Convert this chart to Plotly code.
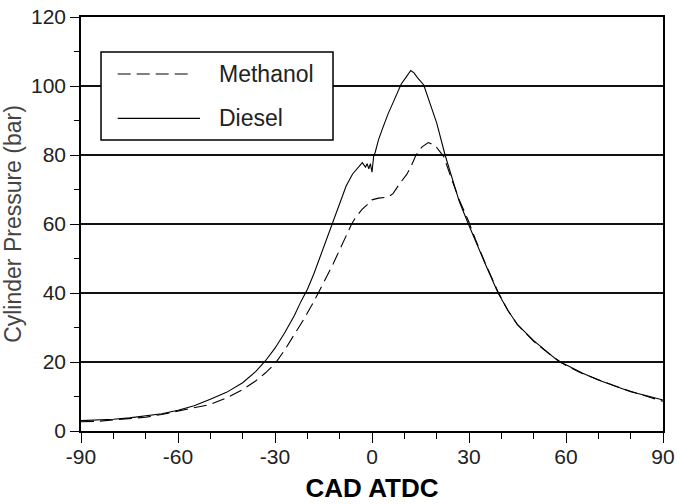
import plotly.graph_objects as go

# ---- data ----
series_names = ["Methanol", "Diesel"]

diesel_cad = [-90, -85, -80, -75, -70, -65, -60, -55, -50, -45, -40, -36, -33, -30, -27, -24,
              -22, -20, -18, -16, -14, -12, -10, -8, -6, -4, -3, -2, -1.5, -1, -0.5, 0, 0.5,
              1, 2, 3.3, 5, 7, 9, 10.5, 12, 13, 14, 16, 18, 20, 22.6, 25, 27, 29.8, 32, 35,
              39, 42, 45, 50, 55, 58, 60, 65, 70, 75, 80, 85, 90]
diesel_p = [3.0, 3.1, 3.4, 3.8, 4.3, 5.0, 6.0, 7.3, 9.2, 11.2, 14.0, 17.2, 20.3, 24.0, 28.5, 33.5,
            37.5, 41.0, 45.5, 50.5, 55.4, 60.5, 66.0, 71.0, 74.5, 76.8, 77.8, 76.5, 77.5, 76.0, 77.5, 75.0, 79.6,
            80.8, 84.4, 87.8, 92.0, 96.2, 100.5, 102.5, 104.5, 103.8, 102.5, 100.3, 94.5, 89.3, 80.0, 72.5, 66.5, 60.0, 55.0, 48.5,
            40.0, 35.0, 30.8, 26.2, 22.3, 20.0, 19.2, 16.8, 14.8, 13.0, 11.4, 10.2, 9.0]

methanol_cad = [-90, -85, -80, -75, -70, -65, -60, -55, -50, -45, -40, -36, -33, -30, -27, -24,
                -21, -18, -16, -14, -12, -10, -8, -6.3, -5, -3, -1, 0, 2, 5, 6.5, 8.7, 10.7,
                12, 13.5, 15.4, 17.4, 19.5, 21, 22.2, 24.7, 27, 30, 32, 35, 39, 42, 45, 50,
                55, 58, 60, 65, 70, 75, 80, 85, 90]
methanol_p = [2.7, 2.8, 3.2, 3.6, 4.0, 4.8, 5.7, 6.6, 7.7, 9.6, 12.0, 14.5, 16.8, 19.5, 23.5, 28.0,
              32.5, 37.5, 41.0, 44.8, 48.5, 52.5, 56.5, 60.0, 62.0, 64.3, 66.0, 67.0, 67.5, 67.8, 68.8, 71.9, 74.3,
              76.5, 79.8, 82.3, 83.6, 82.8, 81.0, 79.5, 72.8, 67.0, 60.5, 55.5, 48.7, 40.3, 35.0, 30.8, 26.0,
              22.2, 20.2, 19.0, 16.7, 14.8, 13.1, 11.5, 10.0, 8.6]

x_ticks = [-90, -60, -30, 0, 30, 60, 90]
y_ticks = [0, 20, 40, 60, 80, 100, 120]

FONT = "Liberation Sans, Arial, sans-serif"
DASH = "13px,6px"

fig = go.Figure()
fig.add_trace(go.Scatter(x=methanol_cad, y=methanol_p, mode="lines", name=series_names[0],
                         line=dict(color="black", width=1.1, dash=DASH), showlegend=False))
fig.add_trace(go.Scatter(x=diesel_cad, y=diesel_p, mode="lines", name=series_names[1],
                         line=dict(color="black", width=1.1), showlegend=False))

# hand-drawn legend box (layout decoration)
fig.add_shape(type="rect", xref="paper", yref="paper", x0=0.0344, x1=0.433, y0=0.703, y1=0.9155,
              line=dict(color="black", width=1.5), fillcolor="white", layer="above")
fig.add_shape(type="line", xref="paper", yref="paper", x0=0.063, x1=0.1924, y0=0.8623, y1=0.8623,
              line=dict(color="black", width=1.2, dash=DASH), layer="above")
fig.add_shape(type="line", xref="paper", yref="paper", x0=0.063, x1=0.2045, y0=0.7553, y1=0.7553,
              line=dict(color="black", width=1.2), layer="above")
for name, yy in zip(series_names, [0.8623, 0.7553]):
    fig.add_annotation(xref="paper", yref="paper", x=0.2332, y=yy, text=name, showarrow=False,
                       xanchor="left", yanchor="middle", font=dict(family=FONT, size=23, color="#222"))

fig.update_layout(
    width=677, height=504,
    margin=dict(l=81, r=14, t=17, b=73, autoexpand=False),
    paper_bgcolor="white", plot_bgcolor="white",
    font=dict(family=FONT, color="#222"),
)
fig.update_xaxes(
    automargin=False, ticklabeloverflow="allow", ticklabelstandoff=-4,
    range=[-90, 90], tickvals=x_ticks, ticktext=[str(v) for v in x_ticks],
    ticks="outside", ticklen=10, tickwidth=1.2, tickcolor="black",
    minor=dict(dtick=10, ticks="outside", ticklen=6, tickwidth=1.2, tickcolor="black", showgrid=False),
    showline=True, linecolor="black", linewidth=1.5, mirror=True,
    showgrid=False, zeroline=False,
    tickfont=dict(family=FONT, size=21, color="#222"),
    title=dict(text="<b>CAD ATDC</b>", font=dict(family=FONT, size=26, color="black"), standoff=12),
)
fig.update_yaxes(
    automargin=False, ticklabeloverflow="allow",
    range=[0, 120], tickvals=y_ticks, ticktext=[str(v) for v in y_ticks],
    ticks="outside", ticklen=9, tickwidth=1.2, tickcolor="black",
    minor=dict(dtick=10, ticks="outside", ticklen=5, tickwidth=1.2, tickcolor="black", showgrid=False),
    showline=True, linecolor="black", linewidth=1.5, mirror=True,
    showgrid=True, gridcolor="#111", gridwidth=1.5, zeroline=False,
    tickfont=dict(family=FONT, size=21, color="#222"),
    title=dict(text="Cylinder Pressure (bar)", font=dict(family=FONT, size=23, color="#444"), standoff=4),
)

# remove the browser's default 8px page margin so the figure fills the window exactly
fig.write_html("out.html", config={"displayModeBar": False},
               post_script="document.body.style.margin='0';")
